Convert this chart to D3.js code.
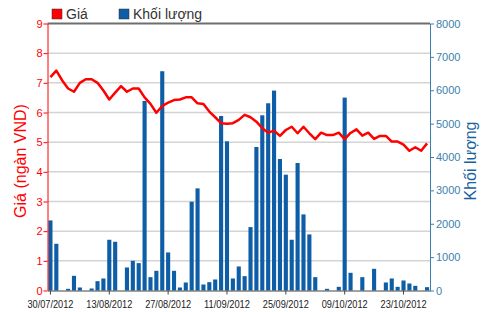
<!DOCTYPE html>
<html>
<head>
<meta charset="utf-8">
<script src="https://cdn.jsdelivr.net/npm/d3@7"></script>
<style>
  body { margin: 0; background: #fff; }
  svg { display: block; font-family: Arial, "Liberation Sans", sans-serif; }
</style>
</head>
<body>
<svg id="chart" width="500" height="312"></svg>
<script>
// trading days shown on the x axis
const dates = [
  "30/07/2012","31/07/2012","01/08/2012","02/08/2012","03/08/2012",
  "06/08/2012","07/08/2012","08/08/2012","09/08/2012","10/08/2012",
  "13/08/2012","14/08/2012","15/08/2012","16/08/2012","17/08/2012",
  "20/08/2012","21/08/2012","22/08/2012","23/08/2012","24/08/2012",
  "27/08/2012","28/08/2012","29/08/2012","30/08/2012","31/08/2012",
  "04/09/2012","05/09/2012","06/09/2012","07/09/2012","10/09/2012",
  "11/09/2012","12/09/2012","13/09/2012","14/09/2012","17/09/2012",
  "18/09/2012","19/09/2012","20/09/2012","21/09/2012","24/09/2012",
  "25/09/2012","26/09/2012","27/09/2012","28/09/2012","01/10/2012",
  "02/10/2012","03/10/2012","04/10/2012","05/10/2012","08/10/2012",
  "09/10/2012","10/10/2012","11/10/2012","12/10/2012","15/10/2012",
  "16/10/2012","17/10/2012","18/10/2012","19/10/2012","22/10/2012",
  "23/10/2012","24/10/2012","25/10/2012","26/10/2012","29/10/2012"
];

// price, thousand VND
const price = [
  7.19, 7.41, 7.08, 6.81, 6.70, 7.00, 7.12, 7.12, 7.00, 6.74,
  6.44, 6.67, 6.89, 6.70, 6.81, 6.81, 6.51, 6.29, 5.99, 6.22,
  6.33, 6.42, 6.44, 6.51, 6.51, 6.31, 6.29, 6.03, 5.84, 5.64,
  5.62, 5.64, 5.75, 5.92, 5.84, 5.69, 5.47, 5.32, 5.39, 5.21,
  5.41, 5.52, 5.30, 5.52, 5.30, 5.10, 5.32, 5.24, 5.24, 5.32,
  5.10, 5.31, 5.43, 5.22, 5.32, 5.11, 5.21, 5.21, 5.02, 5.02,
  4.92, 4.71, 4.83, 4.71, 4.96
];

// traded volume
const volume = [
  2100, 1400, 0, 50, 440, 90, 0, 60, 280, 360,
  1520, 1460, 0, 690, 890, 820, 5680, 400, 590, 6570,
  1140, 590, 90, 240, 2660, 3060, 180, 250, 330, 5230,
  4470, 360, 720, 430, 1900, 4300, 5250, 5610, 5990, 3940,
  3470, 1520, 3820, 2280, 1680, 400, 0, 50, 0, 110,
  5780, 530, 0, 400, 0, 650, 0, 240, 360, 110,
  300, 210, 140, 0, 100
];

const xTickLabels = ["30/07/2012","13/08/2012","27/08/2012","11/09/2012","25/09/2012","09/10/2012","23/10/2012"];
const priceTicks = [0, 1, 2, 3, 4, 5, 6, 7, 8, 9];
const volumeTicks = [0, 1000, 2000, 3000, 4000, 5000, 6000, 7000, 8000];

const svg = d3.select("#chart");
const margin = { top: 23.5, right: 70, bottom: 21.5, left: 47.5 };
const width = 500, height = 312;
const plotRight = width - margin.right;
const plotBottom = height - margin.bottom;

const priceRed = "#f00";
const barBlue = "#0d5ea6";
const axisBlue = "#3b7fae";

const x = d3.scaleBand()
  .domain(dates)
  .range([margin.left, plotRight])
  .paddingInner(0.3)
  .paddingOuter(0.15);

const yPrice = d3.scaleLinear().domain([0, 9]).range([plotBottom, margin.top]);
const yVol = d3.scaleLinear().domain([0, 8000]).range([plotBottom, margin.top]);

// gridlines from the price axis
svg.append("g")
  .selectAll("line")
  .data(priceTicks.slice(1, -1))
  .join("line")
    .attr("x1", margin.left)
    .attr("x2", plotRight)
    .attr("y1", d => yPrice(d))
    .attr("y2", d => yPrice(d))
    .attr("stroke", "#d4d4d4")
    .attr("stroke-width", 1.5);

// volume bars
svg.append("g")
  .selectAll("rect")
  .data(volume)
  .join("rect")
    .attr("x", (d, i) => x(dates[i]))
    .attr("width", x.bandwidth())
    .attr("y", d => yVol(d))
    .attr("height", d => plotBottom - yVol(d))
    .attr("fill", barBlue);

// top border
svg.append("line")
  .attr("x1", margin.left).attr("x2", plotRight)
  .attr("y1", margin.top).attr("y2", margin.top)
  .attr("stroke", "#6e6e6e")
  .attr("stroke-width", 2);

// price line
const line = d3.line()
  .x((d, i) => x(dates[i]) + x.bandwidth() / 2)
  .y(d => yPrice(d));

svg.append("path")
  .datum(price)
  .attr("d", line)
  .attr("fill", "none")
  .attr("stroke", priceRed)
  .attr("stroke-width", 2.5)
  .attr("stroke-linejoin", "round");

// x axis
const xAxis = svg.append("g")
  .attr("transform", `translate(0,${plotBottom})`)
  .call(d3.axisBottom(x).tickValues(xTickLabels).tickSize(4).tickSizeOuter(0));
xAxis.select(".domain").attr("stroke", "#444");
xAxis.selectAll(".tick line").attr("stroke", "#444");
xAxis.selectAll(".tick text")
  .attr("fill", "#222")
  .attr("font-size", 10)
  .attr("y", 10)
  .attr("dy", "0.71em")
  .attr("textLength", 46)
  .attr("lengthAdjust", "spacingAndGlyphs");

// left price axis
const leftAxis = svg.append("g")
  .attr("transform", `translate(${margin.left},0)`)
  .call(d3.axisLeft(yPrice).tickValues(priceTicks).tickSize(4).tickSizeOuter(0));
leftAxis.select(".domain").attr("stroke", priceRed);
leftAxis.selectAll(".tick line").attr("stroke", priceRed);
leftAxis.selectAll(".tick text")
  .attr("fill", priceRed)
  .attr("font-size", 11)
  .attr("x", -5);

// right volume axis
const rightAxis = svg.append("g")
  .attr("transform", `translate(${plotRight},0)`)
  .call(d3.axisRight(yVol).tickValues(volumeTicks).tickSize(4).tickSizeOuter(0).tickFormat(d3.format("d")));
rightAxis.select(".domain").attr("stroke", axisBlue);
rightAxis.selectAll(".tick line").attr("stroke", axisBlue);
rightAxis.selectAll(".tick text")
  .attr("fill", axisBlue)
  .attr("font-size", 11)
  .attr("x", 6);

// axis titles
svg.append("text")
  .attr("transform", `translate(26,${(margin.top + plotBottom) / 2 + 4}) rotate(-90)`)
  .attr("text-anchor", "middle")
  .attr("fill", priceRed)
  .attr("font-size", 16)
  .text("Giá (ngàn VND)");

svg.append("text")
  .attr("transform", `translate(476,${(margin.top + plotBottom) / 2 + 4}) rotate(-90)`)
  .attr("text-anchor", "middle")
  .attr("fill", "#17619e")
  .attr("font-size", 16)
  .text("Khối lượng");

// legend
const legendItems = [
  { label: "Giá", color: priceRed, x: 52 },
  { label: "Khối lượng", color: barBlue, x: 119 }
];
const legend = svg.append("g")
  .selectAll("g")
  .data(legendItems)
  .join("g")
    .attr("transform", d => `translate(${d.x},9)`);
legend.append("rect")
  .attr("width", 10).attr("height", 10)
  .attr("fill", d => d.color)
  .attr("stroke", "#333")
  .attr("stroke-width", 0.5);
legend.append("text")
  .attr("x", 14).attr("y", 10)
  .attr("font-size", 14)
  .attr("fill", "#333")
  .text(d => d.label);
</script>
</body>
</html>
